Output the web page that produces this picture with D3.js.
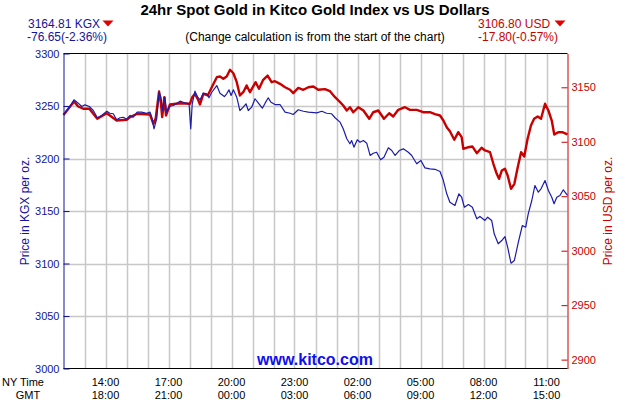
<!DOCTYPE html>
<html><head><meta charset="utf-8">
<script src="https://cdn.jsdelivr.net/npm/d3@7"></script>
<style>body{margin:0;background:#fff} svg{display:block} text{font-family:"Liberation Sans",Arial,Helvetica,sans-serif}</style>
</head><body><svg id="c" width="630" height="400"></svg>
<script>
// ---- data (hours after 12:00 NY time) ----
const kgxHours = [0,0.15,0.31,0.5,0.70,0.87,1.02,1.23,1.42,1.61,1.82,2.06,2.21,2.37,2.53,2.69,2.85,3.01,3.17,3.32,3.51,3.72,3.96,4.12,4.2,4.31,4.44,4.55,4.64,4.72,4.83,4.91,5.04,5.23,5.55,5.79,5.98,6.06,6.13,6.26,6.39,6.5,6.66,6.82,6.93,7.06,7.30,7.45,7.66,7.77,7.88,7.98,8.09,8.25,8.40,8.56,8.69,8.80,8.96,9.12,9.28,9.47,9.6,9.75,9.88,10.07,10.31,10.55,10.79,10.94,11.18,11.42,11.66,12.06,12.30,12.53,12.77,12.93,13.17,13.32,13.49,13.64,13.72,13.83,13.99,14.12,14.28,14.44,14.6,14.75,14.91,15.10,15.26,15.47,15.63,15.79,15.99,16.18,16.42,16.58,16.82,17.02,17.21,17.45,17.69,17.93,18.09,18.25,18.40,18.64,18.83,18.96,19.09,19.28,19.47,19.68,19.83,20.07,20.2,20.39,20.51,20.7,20.87,21.02,21.15,21.31,21.47,21.66,21.85,22.01,22.13,22.3,22.45,22.61,22.74,22.93,23.09,23.25,23.36,23.49,23.64,23.8,24];
const kgxValues = [3241.46,3245.7,3249.5,3255.9,3252.7,3249.5,3251.1,3249.5,3245.7,3238.8,3241.0,3245.0,3243.1,3242.6,3236.9,3238.8,3239.3,3237.4,3241.0,3239.3,3244.1,3244.1,3243.1,3244.1,3239.3,3228.3,3238.1,3263.1,3258.4,3245.7,3258.4,3244.1,3249.5,3250.5,3254.6,3252.9,3252.1,3228.3,3252.1,3264.1,3258.4,3255.9,3262.2,3261.6,3257.8,3263.1,3269.5,3262.2,3259.0,3261.6,3265.4,3260.0,3265.4,3258.4,3245.7,3248.9,3252.1,3245.7,3248.9,3256.9,3252.7,3247.9,3252.7,3257.8,3253.6,3251.4,3251.4,3244.1,3243.1,3241.9,3246.4,3245.0,3244.1,3243.5,3245.0,3243.1,3242.6,3238.8,3234.6,3228.3,3218.8,3214.0,3217.1,3210.8,3217.8,3215.5,3217.1,3214.6,3202.9,3205.0,3206.0,3198.8,3201.2,3210.2,3207.6,3202.9,3207.6,3209.2,3206.0,3202.9,3195.0,3198.1,3191.1,3190.2,3189.7,3187.6,3179.0,3166.4,3158.4,3155.2,3166.4,3163.1,3153.6,3156.2,3153.6,3142.6,3144.8,3141.0,3144.1,3141.0,3128.3,3118.8,3121.9,3125.7,3115.5,3100.3,3102.9,3120.3,3136.2,3134.6,3147.3,3160.0,3174.3,3167.9,3171.1,3179.0,3169.5,3163.1,3156.9,3163.1,3164.8,3170.2,3164.81];
const usdHours = [0,0.5,0.70,0.94,1.23,1.61,2.06,2.21,2.53,3.01,3.17,3.51,4.12,4.28,4.39,4.55,4.64,4.70,4.80,4.88,5.07,5.55,6.02,6.13,6.26,6.39,6.5,6.66,6.87,7.06,7.30,7.45,7.61,7.77,7.93,8.09,8.25,8.40,8.56,8.72,8.88,9.15,9.31,9.51,9.72,9.91,10.07,10.31,10.55,10.79,10.94,11.18,11.42,11.66,11.9,12.13,12.45,12.69,12.93,13.17,13.32,13.49,13.64,13.8,14.04,14.28,14.56,14.75,14.99,15.26,15.51,15.7,15.94,16.26,16.5,16.82,17.13,17.45,17.69,17.93,18.09,18.25,18.40,18.61,18.80,18.96,19.04,19.28,19.47,19.68,19.91,20.07,20.31,20.47,20.63,20.74,20.87,21.02,21.15,21.31,21.47,21.63,21.79,21.94,22.10,22.26,22.41,22.58,22.74,22.93,23.09,23.25,23.37,23.56,23.75,24];
const usdValues = [3124.60,3137.0,3132.4,3130.3,3130.3,3121.1,3126.2,3124.1,3119.5,3120.2,3122.6,3125.7,3125.0,3116.5,3121.4,3146.1,3134.9,3122.6,3140.9,3124.1,3134.2,3135.4,3134.9,3140.9,3144.0,3139.4,3134.2,3144.0,3142.5,3150.1,3159.3,3159.9,3157.8,3159.9,3166.1,3162.9,3154.7,3142.5,3145.5,3151.7,3145.5,3154.7,3148.6,3156.9,3160.8,3154.7,3155.6,3153.2,3150.1,3147.7,3144.6,3149.5,3147.7,3150.1,3150.7,3147.7,3148.3,3146.4,3140.9,3136.3,3133.3,3128.7,3131.7,3127.1,3131.7,3128.7,3121.1,3127.1,3128.7,3121.1,3126.2,3123.2,3129.3,3131.7,3129.3,3129.3,3127.1,3127.1,3125.4,3124.1,3119.5,3113.4,3109.7,3101.8,3108.8,3104.2,3093.5,3095.0,3095.7,3089.5,3094.5,3092.0,3090.4,3079.8,3070.6,3066.0,3073.6,3075.2,3069.0,3056.8,3061.4,3076.7,3090.4,3086.5,3102.7,3114.9,3121.1,3123.2,3121.1,3134.9,3128.7,3119.5,3106.7,3108.8,3108.8,3106.80];
const kgxTicks = [3000,3050,3100,3150,3200,3250,3300];
const usdTicks = [2900,2950,3000,3050,3100,3150];
const timeTickHours = [2,5,8,11,14,17,20,23];
const nyLabels = ["14:00","17:00","20:00","23:00","02:00","05:00","08:00","11:00"];
const gmtLabels = ["18:00","21:00","00:00","03:00","06:00","09:00","12:00","15:00"];
const gridHours = d3.range(1,24);

const BLUE="#14149c", RED="#c80000", LBLUE="#1c1caa";
const svg=d3.select("#c");
const L=63.5,R=567.5,T=53.5,B=368.5;
const x=d3.scaleLinear().domain([0,24]).range([L,R]);
const y=d3.scaleLinear().domain([3000,3300]).range([B,T]);
const ratio=usdValues[0]/kgxValues[0];
const y2=d3.scaleLinear().domain([3000*ratio,3300*ratio]).range([B,T]);

// grid
svg.append("g").selectAll("line").data(gridHours).join("line")
  .attr("x1",d=>Math.round(x(d))+0.5).attr("x2",d=>Math.round(x(d))+0.5).attr("y1",T).attr("y2",B)
  .attr("stroke","#c8c8c8").attr("stroke-width",1.5);
svg.append("g").selectAll("line").data(kgxTicks.slice(1,-1)).join("line")
  .attr("x1",L).attr("x2",R).attr("y1",d=>Math.round(y(d))+0.5).attr("y2",d=>Math.round(y(d))+0.5)
  .attr("stroke","#c8c8c8").attr("stroke-width",1.5);

// frame
svg.append("line").attr("x1",L).attr("x2",R).attr("y1",T).attr("y2",T).attr("stroke","#000");
svg.append("line").attr("x1",L).attr("x2",R).attr("y1",B).attr("y2",B).attr("stroke","#000");

// lines
const kgx=kgxHours.map((h,i)=>[h,kgxValues[i]]);
const usd=usdHours.map((h,i)=>[h,usdValues[i]]);
svg.append("path").datum(usd).attr("fill","none").attr("stroke",RED).attr("stroke-width",2.4)
  .attr("stroke-linejoin","round").attr("d",d3.line().x(d=>x(d[0])).y(d=>y2(d[1])));
svg.append("path").datum(kgx).attr("fill","none").attr("stroke",LBLUE).attr("stroke-width",1.2)
  .attr("stroke-linejoin","round").attr("d",d3.line().x(d=>x(d[0])).y(d=>y(d[1])));

// left axis
const ga=svg.append("g").attr("transform",`translate(${L},0)`)
  .call(d3.axisLeft(y).tickValues(kgxTicks).tickSizeInner(-6).tickSizeOuter(0).tickPadding(4).tickFormat(d3.format("d")));
ga.select(".domain").attr("stroke",BLUE);
ga.selectAll(".tick line").attr("stroke",BLUE);
ga.selectAll("text").attr("fill",BLUE).attr("font-size",11).attr("font-family","Liberation Sans, Arial, sans-serif");
// right axis
const gb=svg.append("g").attr("transform",`translate(${R},0)`)
  .call(d3.axisRight(y2).tickValues(usdTicks).tickSizeInner(-6).tickSizeOuter(0).tickPadding(4).tickFormat(d3.format("d")));
gb.select(".domain").attr("stroke",RED);
gb.selectAll(".tick line").attr("stroke",RED);
gb.selectAll("text").attr("fill",RED).attr("font-size",11).attr("font-family","Liberation Sans, Arial, sans-serif");

// axis titles
svg.append("text").attr("transform","translate(29,211) rotate(-90)").attr("text-anchor","middle")
  .attr("fill",BLUE).attr("font-size",12).text("Price in KGX per oz.");
svg.append("text").attr("transform","translate(612,211) rotate(-90)").attr("text-anchor","middle")
  .attr("fill",RED).attr("font-size",12).text("Price in USD per oz.");

// time labels
svg.append("g").selectAll("text").data(timeTickHours).join("text")
  .attr("x",d=>x(d)).attr("y",386).attr("text-anchor","middle").attr("font-size",11).attr("fill","#000")
  .text((d,i)=>nyLabels[i]);
svg.append("g").selectAll("text").data(timeTickHours).join("text")
  .attr("x",d=>x(d)).attr("y",399).attr("text-anchor","middle").attr("font-size",11).attr("fill","#000")
  .text((d,i)=>gmtLabels[i]);
svg.append("text").attr("x",23).attr("y",386).attr("text-anchor","middle").attr("font-size",11).text("NY Time");
svg.append("text").attr("x",28).attr("y",399).attr("text-anchor","middle").attr("font-size",11).text("GMT");

// titles
svg.append("text").attr("x",315).attr("y",15).attr("text-anchor","middle").attr("font-size",15)
  .attr("font-weight","bold").attr("fill","#000").text("24hr Spot Gold in Kitco Gold Index vs US Dollars");
svg.append("text").attr("x",315).attr("y",41).attr("text-anchor","middle").attr("font-size",12)
  .attr("fill","#000").text("(Change calculation is from the start of the chart)");
svg.append("text").attr("x",315).attr("y",365).attr("text-anchor","middle").attr("font-size",16)
  .attr("font-weight","bold").attr("fill","#1010ee").text("www.kitco.com");

// headers
const kLast=kgxValues[kgxValues.length-1], uLast=usdValues[usdValues.length-1];
const kCh=kLast-kgxValues[0], uCh=uLast-usdValues[0];
const fmtCh=(c,s)=>`${c.toFixed(2)}(${(c/s*100).toFixed(2)}%)`;
svg.append("text").attr("x",28).attr("y",28).attr("font-size",12).attr("fill",BLUE).text(`${kLast.toFixed(2)} KGX`);
svg.append("text").attr("x",27).attr("y",41).attr("font-size",12).attr("fill",BLUE).text(fmtCh(kCh,kgxValues[0]));
svg.append("text").attr("x",478).attr("y",28).attr("font-size",12).attr("fill",RED).text(`${uLast.toFixed(2)} USD`);
svg.append("text").attr("x",478).attr("y",41).attr("font-size",12).attr("fill",RED).text(fmtCh(uCh,usdValues[0]));
const tri=(cx)=>svg.append("path").attr("d",`M${cx-5.5},20.5 L${cx+5.5},20.5 L${cx},26.5 Z`).attr("fill","#e00000");
tri(108); tri(560);
</script></body></html>
